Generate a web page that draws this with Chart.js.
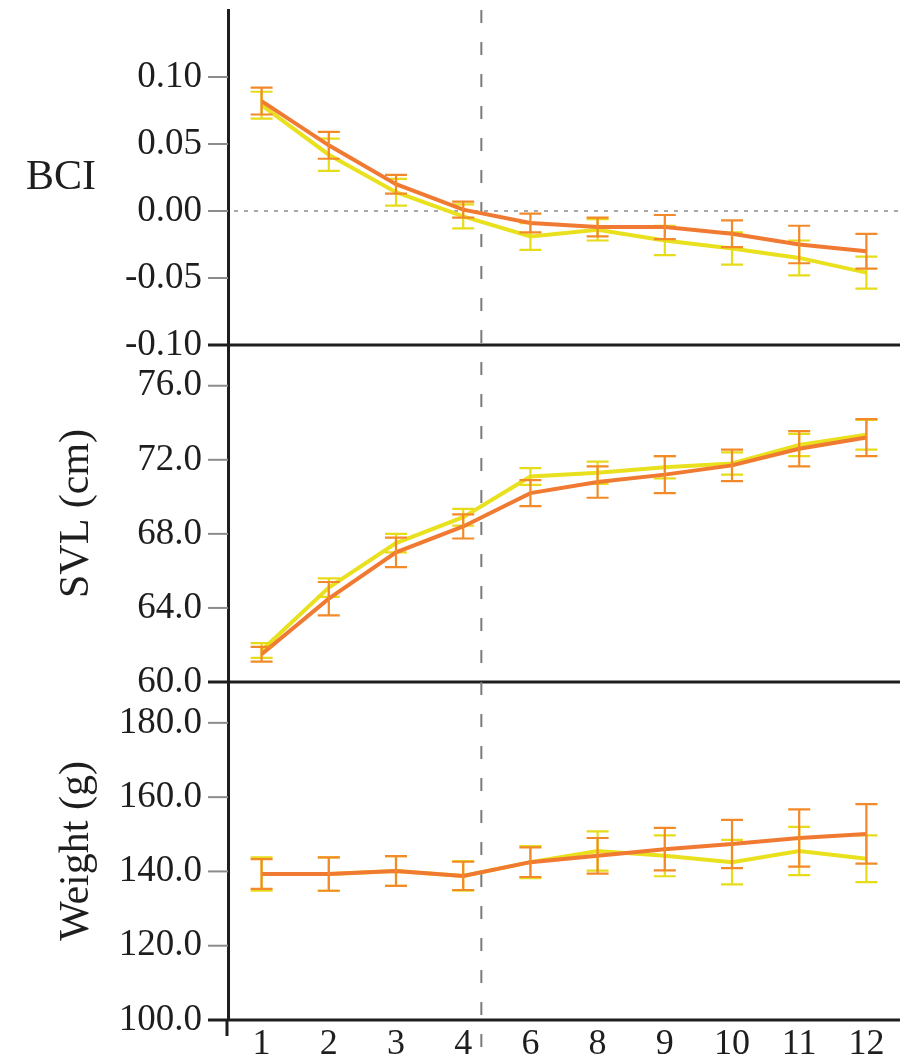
<!DOCTYPE html>
<html>
<head>
<meta charset="utf-8">
<script src="https://cdn.jsdelivr.net/npm/chart.js@4.4.1/dist/chart.umd.min.js"></script>
<style>
  html, body { margin: 0; padding: 0; background: #fff; }
  #wrap { position: relative; width: 908px; height: 1060px; overflow: hidden; }
  #wrap canvas { position: absolute; left: 0; }
</style>
</head>
<body>
<div id="wrap">
  <canvas id="bci" width="908" height="375" style="top:0px"></canvas>
  <canvas id="svl" width="908" height="390" style="top:320px"></canvas>
  <canvas id="weight" width="908" height="405" style="top:655px"></canvas>
</div>
<script>
// weeks on the x axis
const weeks = ['1', '2', '3', '4', '6', '8', '9', '10', '11', '12'];

// BCI
const bciYellow = [0.079, 0.042, 0.014, -0.004, -0.019, -0.014, -0.022, -0.028, -0.035, -0.046];
const bciYellowErr = [0.010, 0.012, 0.010, 0.009, 0.010, 0.008, 0.011, 0.012, 0.013, 0.012];
const bciOrange = [0.082, 0.049, 0.020, 0.001, -0.009, -0.012, -0.012, -0.017, -0.025, -0.030];
const bciOrangeErr = [0.010, 0.010, 0.007, 0.006, 0.007, 0.007, 0.009, 0.010, 0.014, 0.013];

// SVL (cm)
const svlYellow = [61.7, 65.1, 67.5, 68.9, 71.1, 71.3, 71.6, 71.8, 72.8, 73.35];
const svlYellowErr = [0.4, 0.5, 0.5, 0.45, 0.45, 0.6, 0.6, 0.6, 0.6, 0.8];
const svlOrange = [61.5, 64.5, 67.0, 68.4, 70.2, 70.8, 71.2, 71.7, 72.6, 73.2];
const svlOrangeErr = [0.4, 0.9, 0.8, 0.65, 0.7, 0.85, 1.0, 0.85, 0.95, 1.0];

// Weight (g)
const wtYellow = [139.3, 139.3, 140.1, 138.8, 142.5, 145.5, 144.2, 142.5, 145.5, 143.4];
const wtYellowErr = [4.5, 4.5, 4.0, 4.0, 4.3, 5.3, 5.5, 6.0, 6.5, 6.3];
const wtOrange = [139.3, 139.3, 140.1, 138.8, 142.5, 144.2, 146.0, 147.4, 149.0, 150.1];
const wtOrangeErr = [4.0, 4.5, 4.0, 3.8, 4.0, 4.8, 5.7, 6.5, 7.7, 8.0];

// where the dashed divider sits, in category units
const dividerAt = 3.27;

const yellowLine = '#e9e01e';
const yellowBar = '#e6dc1a';
const orangeLine = '#f07a32';
const orangeBar = '#f38a2a';
const ink = '#1e1e1e';

Chart.defaults.font.family = '"Liberation Serif", "Times New Roman", serif';
Chart.defaults.color = ink;

var panelLines = {
  id: 'panelLines',
  beforeDatasetsDraw: function (chart, args, opts) {
    var ctx = chart.ctx, area = chart.chartArea, x = chart.scales.x, y = chart.scales.y;
    ctx.save();
    if (opts.zeroLine) {
      var py = y.getPixelForValue(0);
      ctx.strokeStyle = '#a8a8a8';
      ctx.lineWidth = 2;
      ctx.setLineDash([4, 6]);
      ctx.beginPath();
      ctx.moveTo(area.left + 6, py);
      ctx.lineTo(area.right, py);
      ctx.stroke();
    }
    // dashed divider
    var px = x.getPixelForValue(dividerAt);
    var y0 = area.top;
    var y1 = opts.toBottom ? chart.height : area.bottom;
    ctx.strokeStyle = '#7a7a7a';
    ctx.lineWidth = 2;
    ctx.setLineDash([13, 19]);
    ctx.lineDashOffset = ((opts.canvasTop + y0) - 10) % 32;
    ctx.beginPath();
    ctx.moveTo(px, y0);
    ctx.lineTo(px, y1);
    ctx.stroke();
    ctx.restore();
  },
  afterDatasetDraw: function (chart, args) {
    var ds = chart.data.datasets[args.index];
    if (!ds.errorBars) return;
    var ctx = chart.ctx, y = chart.scales.y;
    ctx.save();
    ctx.strokeStyle = ds.errorColor;
    ctx.lineWidth = 2.2;
    args.meta.data.forEach(function (pt, i) {
      var v = ds.data[i], e = ds.errorBars[i];
      var top = y.getPixelForValue(v + e), bot = y.getPixelForValue(v - e);
      ctx.beginPath();
      ctx.moveTo(pt.x, top); ctx.lineTo(pt.x, bot);
      ctx.moveTo(pt.x - 11, top); ctx.lineTo(pt.x + 11, top);
      ctx.moveTo(pt.x - 11, bot); ctx.lineTo(pt.x + 11, bot);
      ctx.stroke();
    });
    ctx.restore();
  },
  afterDraw: function (chart, args, opts) {
    var ctx = chart.ctx, area = chart.chartArea, y = chart.scales.y;
    ctx.save();
    // tick marks, long for labelled ones
    ctx.strokeStyle = '#8c8c8c';
    ctx.lineWidth = 2;
    y.ticks.forEach(function (t) {
      var py = y.getPixelForValue(t.value);
      if (Math.abs(py - area.bottom) < 2) return;
      var len = t.label === '' ? 11 : 20;
      ctx.beginPath();
      ctx.moveTo(area.left - len, py);
      ctx.lineTo(area.left, py);
      ctx.stroke();
    });
    // panel bottom line
    ctx.strokeStyle = ink;
    ctx.lineWidth = 3;
    ctx.beginPath();
    ctx.moveTo(area.left - 20, area.bottom);
    ctx.lineTo(area.right, area.bottom);
    ctx.stroke();
    if (opts.toBottom) {
      ctx.beginPath();
      ctx.moveTo(area.left - 1, area.bottom);
      ctx.lineTo(area.left - 1, area.bottom + 16);
      ctx.stroke();
    }
    if (opts.label) {
      ctx.fillStyle = ink;
      ctx.font = '42px "Liberation Serif", "Times New Roman", serif';
      ctx.textAlign = 'center';
      ctx.textBaseline = 'middle';
      ctx.fillText(opts.label, 61, 178);
    }
    ctx.restore();
  }
};

function fitY(scale) {
  scale.width = 228;
  scale.paddingTop = 0;
  scale.paddingBottom = 0;
}

function every(step, digits) {
  return function (v) {
    var r = Math.round(v / step);
    return Math.abs(v - r * step) < 1e-6 ? (r * step).toFixed(digits) : '';
  };
}

// orange listed first so it is painted over the yellow one
function series(yellow, yellowErr, orange, orangeErr) {
  return [
    {
      label: 'orange', data: orange, borderColor: orangeLine, borderWidth: 4,
      pointRadius: 0, tension: 0, errorBars: orangeErr, errorColor: orangeBar
    },
    {
      label: 'yellow', data: yellow, borderColor: yellowLine, borderWidth: 4,
      pointRadius: 0, tension: 0, errorBars: yellowErr, errorColor: yellowBar
    }
  ];
}

function panel(id, canvasTop, pad, yScale, datasets, extra) {
  var showX = !!extra.toBottom;
  return new Chart(document.getElementById(id), {
    type: 'line',
    data: { labels: weeks, datasets: datasets },
    options: {
      responsive: false,
      animation: false,
      layout: { padding: { top: pad[0], bottom: pad[1], left: 0, right: 8 } },
      plugins: {
        legend: { display: false },
        tooltip: { enabled: false },
        panelLines: Object.assign({ canvasTop: canvasTop }, extra)
      },
      scales: {
        x: {
          type: 'category',
          offset: true,
          display: showX,
          grid: { display: false, drawTicks: false },
          border: { display: false },
          ticks: { padding: 3, color: ink, font: { size: 36 }, maxRotation: 0, autoSkip: false },
          afterFit: function (s) {
            if (!showX) return;
            s.height = 40;
            s.paddingLeft = 0;
            s.paddingRight = 0;
          }
        },
        y: yScale
      }
    },
    plugins: [panelLines]
  });
}

function yAxis(min, max, step, labelStep, digits, cut, title) {
  return {
    min: min,
    max: max,
    border: { color: ink, width: 3 },
    grid: { display: false, drawTicks: false },
    ticks: { stepSize: step, padding: 26, color: ink, font: { size: 37 }, callback: every(labelStep, digits) },
    afterBuildTicks: function (s) {
      s.ticks = s.ticks.filter(function (t) { return t.value < cut; });
    },
    afterFit: fitY,
    title: title ? {
      display: true, text: title, color: ink,
      font: { size: 42 }, padding: { top: 52, bottom: 0 }
    } : { display: false }
  };
}

panel('bci', 0, [10, 30],
  yAxis(-0.10, 0.15, 0.025, 0.05, 2, 0.14, null),
  series(bciYellow, bciYellowErr, bciOrange, bciOrangeErr),
  { zeroLine: true, label: 'BCI' });

panel('svl', 320, [25, 28],
  yAxis(60, 78.2, 2, 4, 1, 77, 'SVL (cm)'),
  series(svlYellow, svlYellowErr, svlOrange, svlOrangeErr),
  {});

panel('weight', 655, [27, 0],
  yAxis(100, 191, 10, 20, 1, 185, 'Weight (g)'),
  series(wtYellow, wtYellowErr, wtOrange, wtOrangeErr),
  { toBottom: true });
</script>
</body>
</html>
